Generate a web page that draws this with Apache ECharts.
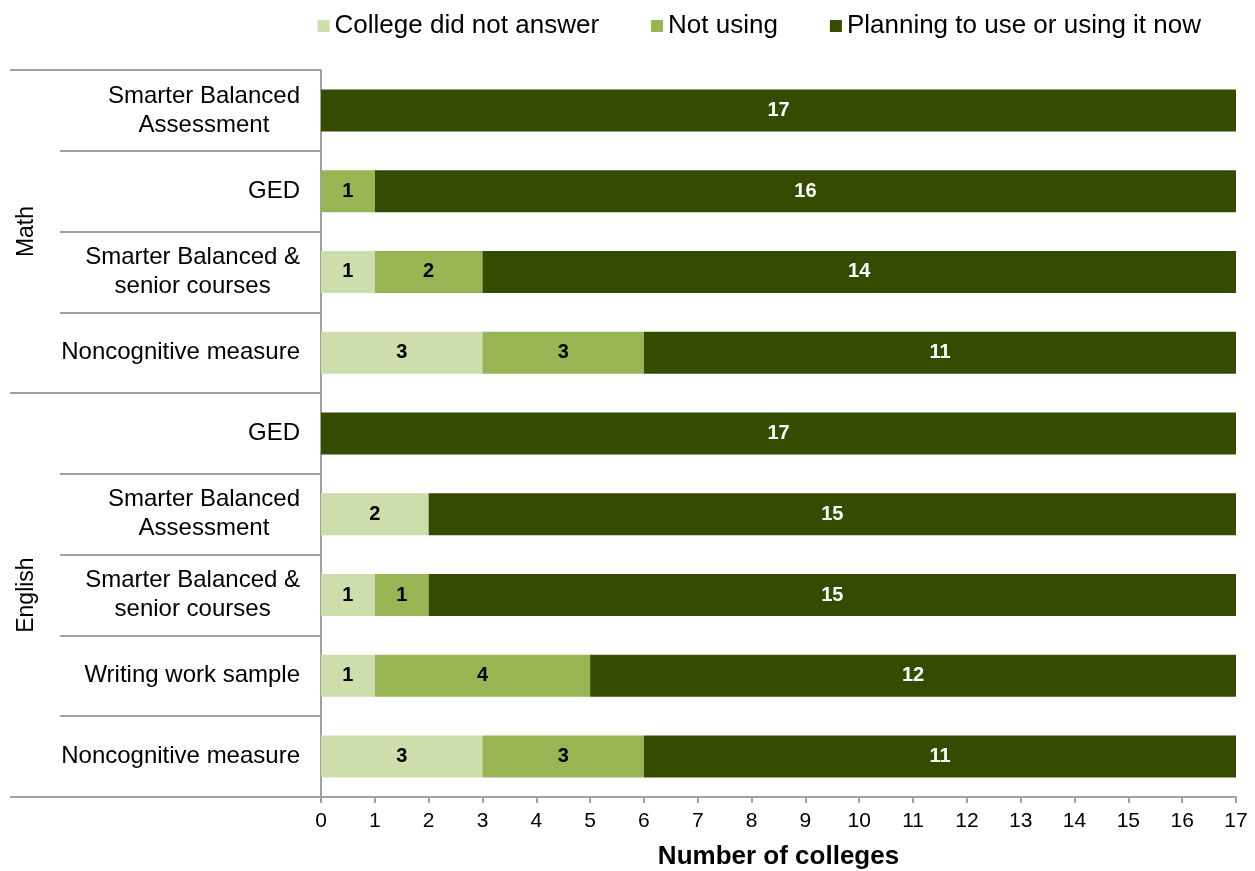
<!DOCTYPE html>
<html>
<head>
<meta charset="utf-8">
<script src="https://cdn.jsdelivr.net/npm/echarts@6/dist/echarts.min.js"></script>
<style>
html,body{margin:0;padding:0;background:#fff;}
#chart{width:1255px;height:871px;}
</style>
</head>
<body>
<div id="chart"></div>
<script>
// ---- data ----
var groupNames = ['Math', 'English'];
var groupSizes = [4, 5];
var measures = [
  'Smarter Balanced\nAssessment',
  'GED',
  'Smarter Balanced &\nsenior courses',
  'Noncognitive measure',
  'GED',
  'Smarter Balanced\nAssessment',
  'Smarter Balanced &\nsenior courses',
  'Writing work sample',
  'Noncognitive measure'
];
var seriesNames = ['College did not answer', 'Not using', 'Planning to use or using it now'];
var noAnswer = [0, 0, 1, 3, 0, 2, 1, 1, 3];
var notUsing = [0, 1, 2, 3, 0, 0, 1, 4, 3];
var planning = [17, 16, 14, 11, 17, 15, 15, 12, 11];
var xTicks = [0,1,2,3,4,5,6,7,8,9,10,11,12,13,14,15,16,17];

// ---- derived ----
var categories = measures.map(function (m, i) { return i + '|' + m; });
var boundaries = [0], centers = [];
groupSizes.forEach(function (s) {
  var start = boundaries[boundaries.length - 1];
  centers.push(start + s / 2);
  boundaries.push(start + s);
});

var colors = ['#CDDDAC', '#97B653', '#354C00'];
var labelColors = ['#000', '#000', '#fff'];
var gray = '#A0A0A0';
var font = 'Liberation Sans, Arial, sans-serif';

function mkSeries(idx, data) {
  return {
    name: seriesNames[idx],
    type: 'bar',
    stack: 'total',
    data: data,
    barWidth: '52%',
    itemStyle: { color: colors[idx] },
    label: {
      show: true,
      position: 'inside',
      color: labelColors[idx],
      fontFamily: font,
      fontWeight: 'bold',
      fontSize: 20,
      formatter: function (p) { return p.value === 0 ? '' : String(p.value); }
    }
  };
}

var chart = echarts.init(document.getElementById('chart'), null, { renderer: 'canvas' });
chart.setOption({
  animation: false,
  backgroundColor: '#fff',
  textStyle: { fontFamily: font },
  color: colors,
  legend: {
    right: 49,
    top: 8,
    itemWidth: 12,
    itemHeight: 12,
    itemGap: 52,
    icon: 'rect',
    textStyle: { fontFamily: font, fontSize: 26, color: '#000' },
    data: seriesNames
  },
  grid: { left: 321, right: 19, top: 70, bottom: 74, containLabel: false, outerBoundsMode: 'none' },
  xAxis: {
    type: 'value',
    min: 0,
    max: 17,
    interval: 1,
    name: 'Number of colleges',
    nameLocation: 'middle',
    nameGap: 47,
    nameTextStyle: { fontFamily: font, fontSize: 26, fontWeight: 'bold', color: '#000' },
    axisLine: { show: true, onZero: false, lineStyle: { color: gray, width: 2 } },
    axisTick: { show: true, length: 6, lineStyle: { color: gray, width: 2 } },
    splitLine: { show: false },
    axisLabel: {
      fontFamily: font, fontSize: 21, color: '#000', margin: 14,
      formatter: function (v) { return xTicks.indexOf(v) >= 0 ? String(v) : ''; }
    }
  },
  yAxis: [
    {
      type: 'category',
      inverse: true,
      data: categories,
      axisLine: { show: true, lineStyle: { color: gray, width: 2 } },
      axisTick: { show: true, length: 261, interval: 0, alignWithLabel: false, lineStyle: { color: gray, width: 2 } },
      axisLabel: {
        interval: 0,
        margin: 21,
        fontFamily: font,
        fontSize: 24,
        color: '#000',
        lineHeight: 29,
        formatter: function (v) {
          var t = v.substring(v.indexOf('|') + 1);
          return t.split('\n').map(function (l) { return '{c|' + l + '}'; }).join('\n');
        },
        rich: {
          c: { align: 'center', fontFamily: font, fontSize: 24, color: '#000', lineHeight: 29 }
        }
      }
    },
    {
      type: 'value',
      position: 'left',
      inverse: true,
      min: 0,
      max: boundaries[boundaries.length - 1],
      axisLine: { show: false },
      splitLine: { show: false },
      axisTick: { show: true, customValues: boundaries, length: 311, lineStyle: { color: gray, width: 2 } },
      axisLabel: {
        show: true,
        customValues: centers,
        rotate: 90,
        margin: 283,
        fontFamily: font,
        fontSize: 23,
        color: '#000',
        formatter: function (v) {
          var i = centers.indexOf(v);
          return i >= 0 ? groupNames[i] : '';
        }
      }
    }
  ],
  series: [mkSeries(0, noAnswer), mkSeries(1, notUsing), mkSeries(2, planning)]
});
</script>
</body>
</html>
